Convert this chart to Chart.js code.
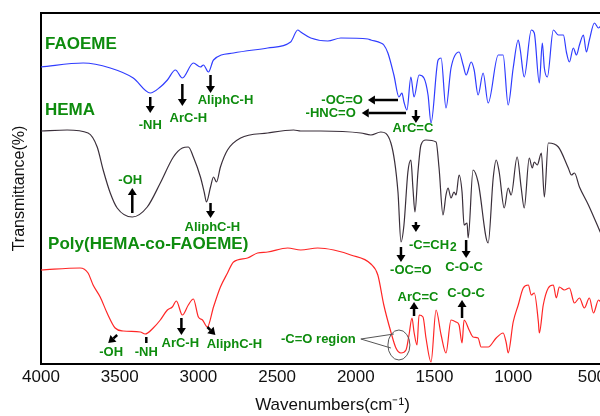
<!DOCTYPE html>
<html>
<head>
<meta charset="utf-8">
<script src="https://cdn.jsdelivr.net/npm/chart.js@4.4.1/dist/chart.umd.min.js"></script>
<style>
  html, body { margin: 0; padding: 0; background: #fff; overflow: hidden; }
  #wrap { width: 624px; height: 416px; }
</style>
</head>
<body>
<div id="wrap"><canvas id="ftir"></canvas></div>
<script>
// FTIR spectra: wavenumber (cm-1) vs transmittance (stacked, arbitrary offset)
const xTicks = [4000, 3500, 3000, 2500, 2000, 1500, 1000, 500];

const faoemeWn = [4000, 3732, 3560, 3414, 3306, 3242, 3197, 3146, 3102, 3032, 2987, 2968, 2936, 2904, 2777, 2560, 2414, 2369, 2350, 2286, 2178, 2095, 1923, 1904, 1841, 1822, 1796, 1758, 1726, 1707, 1694, 1675, 1650, 1630, 1598, 1567, 1541, 1522, 1477, 1458, 1427, 1395, 1344, 1318, 1299, 1267, 1248, 1223, 1191, 1159, 1095, 1064, 1032, 1000, 968, 955, 930, 885, 866, 834, 815, 802, 783, 745, 713, 681, 662, 643, 618, 598, 579, 554, 535, 516, 484, 458, 439];
const faoemeT = [297, 301, 296, 286, 271, 277, 284, 294, 286, 301, 297, 299, 292, 304, 311, 316, 322, 334, 332, 326, 323, 326, 325, 324, 321, 319, 311, 289, 267, 271, 262, 254, 287, 267, 289, 286, 269, 241, 304, 306, 256, 296, 312, 299, 289, 302, 294, 269, 291, 261, 309, 309, 259, 296, 324, 314, 287, 334, 331, 281, 321, 296, 287, 334, 329, 329, 312, 302, 316, 309, 319, 329, 312, 324, 341, 336, 339];

const hemaWn = [4000, 3834, 3701, 3643, 3605, 3560, 3516, 3420, 3325, 3242, 3159, 3102, 3064, 3032, 2987, 2962, 2949, 2923, 2904, 2885, 2860, 2815, 2732, 2560, 2395, 2350, 2223, 1968, 1904, 1841, 1777, 1732, 1713, 1694, 1669, 1650, 1637, 1624, 1605, 1586, 1554, 1490, 1471, 1446, 1427, 1414, 1395, 1376, 1363, 1344, 1325, 1312, 1293, 1286, 1255, 1223, 1159, 1127, 1108, 1089, 1057, 1032, 1013, 975, 949, 930, 898, 879, 866, 847, 821, 802, 777, 713, 650, 630, 611, 579, 522, 439];
const hemaT = [233, 234, 231, 217, 194, 171, 156, 147, 157, 181, 207, 216, 217, 207, 187, 171, 162, 177, 187, 182, 197, 214, 226, 231, 234, 233, 233, 231, 229, 232, 221, 172, 122, 139, 192, 204, 176, 152, 192, 219, 224, 222, 196, 149, 169, 176, 166, 172, 169, 189, 172, 139, 141, 126, 194, 182, 121, 186, 204, 192, 156, 176, 169, 207, 176, 156, 206, 196, 202, 199, 211, 167, 221, 217, 196, 189, 191, 177, 159, 129];

const polyWn = [4000, 3752, 3701, 3669, 3624, 3580, 3529, 3478, 3369, 3338, 3287, 3242, 3197, 3166, 3140, 3102, 3064, 3032, 3000, 2974, 2943, 2904, 2860, 2815, 2777, 2688, 2624, 2560, 2433, 2350, 2242, 2140, 2032, 1904, 1860, 1822, 1777, 1745, 1713, 1681, 1662, 1643, 1630, 1611, 1598, 1573, 1554, 1522, 1490, 1458, 1427, 1395, 1363, 1344, 1325, 1312, 1280, 1255, 1223, 1204, 1159, 1108, 1064, 1044, 1032, 1000, 968, 936, 904, 885, 866, 840, 834, 809, 777, 745, 726, 707, 675, 643, 611, 579, 548, 516, 490, 458, 439];
const polyT = [94, 96, 91, 79, 67, 51, 36, 33, 32, 30, 36, 44, 54, 57, 63, 49, 59, 65, 47, 44, 37, 57, 77, 91, 102, 106, 111, 112, 116, 114, 116, 114, 109, 100, 89, 59, 32, 16, 11, 14, 29, 46, 32, 19, 49, 47, 26, 2, 54, 29, 11, 44, 42, 39, 21, 44, 34, 27, 26, 17, 17, 26, 31, 21, 11, 42, 59, 76, 79, 69, 71, 42, 31, 59, 76, 79, 66, 77, 74, 76, 61, 66, 56, 66, 51, 64, 61];

// band labels: text, wavenumber, value, font size, align
const notes = [
  ['FAOEME', 3975, 320, 17, 'left'],
  ['HEMA', 3975, 254, 17, 'left'],
  ['Poly(HEMA-co-FAOEME)', 3955, 120, 17, 'left'],
  ['-NH', 3306, 239, 13, 'center'],
  ['ArC-H', 3064, 246, 13, 'center'],
  ['AliphC-H', 2828, 264, 13, 'center'],
  ['-OC=O', 1955, 264, 13, 'right'],
  ['-HNC=O', 2000, 251, 13, 'right'],
  ['ArC=C', 1637, 236, 13, 'center'],
  ['-OH', 3433, 184, 13, 'center'],
  ['AliphC-H', 2911, 137, 13, 'center'],
  ['-C=CH', 1662, 119, 13, 'left', '2'],
  ['-OC=O', 1650, 94, 13, 'center'],
  ['C-O-C', 1312, 97, 13, 'center'],
  ['-OH', 3554, 12, 13, 'center'],
  ['-NH', 3331, 12, 13, 'center'],
  ['ArC-H', 3115, 21, 13, 'center'],
  ['AliphC-H', 2771, 20, 13, 'center'],
  ['-C=O region', 2000, 25, 13, 'right'],
  ['ArC=C', 1605, 67, 13, 'center'],
  ['C-O-C', 1299, 71, 13, 'center']
];

// arrows: from (wn, value) to (wn, value), head at the end
const arrows = [
  [3306, 267, 3306, 251],
  [3102, 280, 3102, 258],
  [2923, 289, 2923, 271],
  [1732, 264, 1923, 264],
  [1681, 251, 1962, 251],
  [1618, 254, 1618, 241],
  [3420, 151, 3420, 176],
  [2923, 161, 2923, 146],
  [1618, 142, 1618, 132],
  [1713, 117, 1713, 102],
  [1299, 124, 1299, 106],
  [3516, 29, 3573, 21],
  [3108, 46, 3108, 29],
  [2943, 37, 2892, 29],
  [1630, 48, 1630, 62],
  [1325, 46, 1325, 64]
];

const family = '"Liberation Sans", Arial, sans-serif';

function pts(wn, t) {
  return wn.map((w, i) => ({ x: w, y: t[i] }));
}

const annotate = {
  id: 'annotate',
  afterDraw(chart) {
    const ctx = chart.ctx;
    const sx = chart.scales.x, sy = chart.scales.y;
    const P = (w, v) => [sx.getPixelForValue(w), sy.getPixelForValue(v)];
    const area = chart.chartArea;
    ctx.save();
    // top frame line
    ctx.strokeStyle = '#000';
    ctx.lineWidth = 2;
    ctx.beginPath();
    ctx.moveTo(area.left - 1, area.top);
    ctx.lineTo(area.right, area.top);
    ctx.stroke();

    // labels
    ctx.fillStyle = '#0e8c0e';
    ctx.textBaseline = 'middle';
    notes.forEach(n => {
      const [x, y] = P(n[1], n[2]);
      ctx.font = 'bold ' + n[3] + 'px ' + family;
      ctx.textAlign = n[4];
      ctx.fillText(n[0], x, y);
      if (n[5]) {
        const w = ctx.measureText(n[0]).width;
        ctx.font = 'bold 12px ' + family;
        ctx.textAlign = 'left';
        ctx.fillText(n[5], x + w + 1, y + 3);
      }
    });

    // arrows
    ctx.strokeStyle = '#000';
    ctx.fillStyle = '#000';
    arrows.forEach(a => {
      const [x1, y1] = P(a[0], a[1]);
      const [x2, y2] = P(a[2], a[3]);
      const ang = Math.atan2(y2 - y1, x2 - x1);
      const hl = 7, hw = 4.5;
      const bx = x2 - hl * Math.cos(ang), by = y2 - hl * Math.sin(ang);
      ctx.lineWidth = 2.5;
      ctx.beginPath();
      ctx.moveTo(x1, y1);
      ctx.lineTo(bx, by);
      ctx.stroke();
      ctx.beginPath();
      ctx.moveTo(x2, y2);
      ctx.lineTo(bx + hw * Math.sin(ang), by - hw * Math.cos(ang));
      ctx.lineTo(bx - hw * Math.sin(ang), by + hw * Math.cos(ang));
      ctx.closePath();
      ctx.fill();
    });

    // -NH bar on the copolymer
    const [nx1, ny1] = P(3331, 27);
    const [nx2, ny2] = P(3331, 21);
    ctx.lineWidth = 2.5;
    ctx.beginPath();
    ctx.moveTo(nx1, ny1);
    ctx.lineTo(nx2, ny2);
    ctx.stroke();

    // C=O region callout
    const [ex, ey] = P(1726, 19);
    const [lx, ly] = P(1968, 25);
    const [ux, uy] = P(1758, 30);
    const [dx, dy] = P(1777, 16);
    ctx.strokeStyle = '#555';
    ctx.lineWidth = 1;
    ctx.beginPath();
    ctx.ellipse(ex, ey, 11, 15, 0, 0, Math.PI * 2);
    ctx.moveTo(lx, ly);
    ctx.lineTo(ux, uy);
    ctx.moveTo(lx, ly);
    ctx.lineTo(dx, dy);
    ctx.stroke();
    ctx.restore();
  }
};

new Chart(document.getElementById('ftir'), {
  type: 'line',
  data: {
    datasets: [
      { label: 'FAOEME', data: pts(faoemeWn, faoemeT), borderColor: '#2f3cff' },
      { label: 'HEMA', data: pts(hemaWn, hemaT), borderColor: '#3a2f3a' },
      { label: 'Poly(HEMA-co-FAOEME)', data: pts(polyWn, polyT), borderColor: '#ff2626' }
    ]
  },
  options: {
    responsive: true,
    maintainAspectRatio: false,
    animation: false,
    layout: { padding: { top: 13, left: 0, right: 0, bottom: 0 } },
    elements: {
      point: { radius: 0 },
      line: { borderWidth: 1.2, cubicInterpolationMode: 'monotone' }
    },
    plugins: { legend: { display: false }, tooltip: { enabled: false } },
    scales: {
      x: {
        type: 'linear',
        reverse: true,
        min: 296,
        max: 4000,
        afterBuildTicks: s => { s.ticks = xTicks.map(v => ({ value: v })); },
        afterFit: s => { s.height = 52; },
        grid: { display: false, drawTicks: false },
        border: { display: true, color: '#000', width: 2 },
        ticks: { color: '#111', padding: 3, autoSkip: false, maxRotation: 0, font: { size: 17, family: family }, callback: v => String(v) },
        title: { display: true, text: 'Wavenumbers(cm⁻¹)', color: '#111', font: { size: 17, family: family }, padding: { top: 0, bottom: 0 } }
      },
      y: {
        min: 0,
        max: 351,
        afterFit: s => { s.width = 41; },
        grid: { display: false, drawTicks: false },
        border: { display: true, color: '#000', width: 2 },
        ticks: { display: false },
        title: { display: true, text: 'Transmittance(%)', color: '#111', font: { size: 16, family: family }, padding: { top: 10, bottom: 0 } }
      }
    }
  },
  plugins: [annotate]
});
</script>
</body>
</html>
